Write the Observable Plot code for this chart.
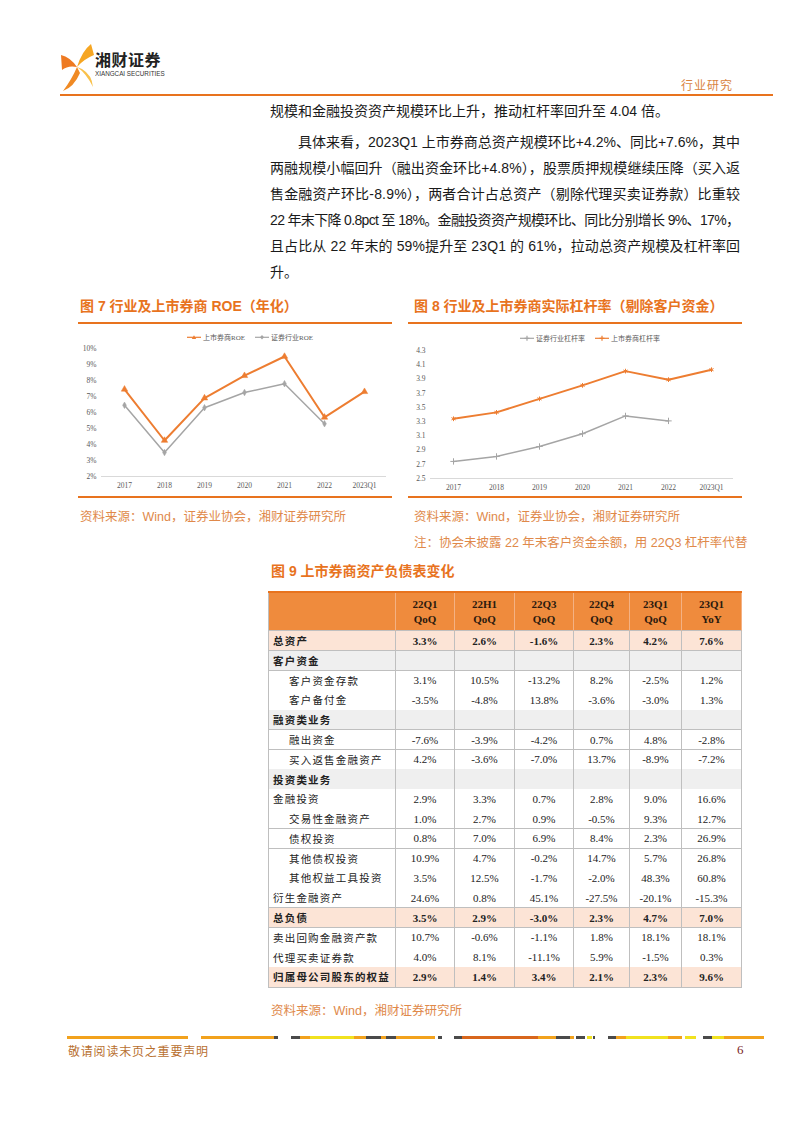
<!DOCTYPE html>
<html><head><meta charset="utf-8">
<script src="https://cdn.jsdelivr.net/npm/d3@7"></script>
<script src="https://cdn.jsdelivr.net/npm/@observablehq/plot@0.6"></script>
<style>
body{margin:0;background:#fff;}
#page{position:relative;width:802px;height:1133px;overflow:hidden;background:#fff;font-family:"Liberation Sans","Noto Sans CJK SC",sans-serif;}
.abs{position:absolute;}
.body-line{position:absolute;font-size:14px;line-height:20px;height:20px;color:#1a1a1a;white-space:nowrap;}
.title{position:absolute;font-size:14px;font-weight:bold;color:#E8731E;line-height:18px;white-space:nowrap;font-family:"Liberation Sans","Noto Sans CJK SC",sans-serif;}
.rule{position:absolute;height:2px;background:#E8731E;}
.src{position:absolute;font-size:12.5px;color:#E0894A;line-height:16px;white-space:nowrap;}
.legend{position:absolute;display:flex;gap:10px;font-size:7px;color:#595959;font-family:"Liberation Serif","Noto Sans CJK SC",serif;white-space:nowrap;align-items:center;}
.legend span.item{display:flex;align-items:center;gap:2px;}
.cell{position:absolute;box-sizing:border-box;border-right:1px solid #BFBFBF;border-bottom:1px solid #BFBFBF;font-family:"Liberation Serif","Noto Sans CJK SC",serif;font-size:11px;color:#222;display:flex;align-items:center;white-space:nowrap;}
</style></head><body><div id="page"></div>
<script>
// ---------- data ----------
const years = ["2017","2018","2019","2020","2021","2022","2023Q1"];
const roeListed = [7.45, 4.25, 6.9, 8.3, 9.5, 5.7, 7.3];
const roeIndustry = [6.45, 3.5, 6.3, 7.25, 7.8, 5.3, null];
const roeTicks = [2,3,4,5,6,7,8,9,10];
const levIndustry = [2.74, 2.81, 2.95, 3.13, 3.38, 3.31, null];
const levListed = [3.34, 3.43, 3.62, 3.81, 4.01, 3.89, 4.03];
const levTicks = [2.5,2.7,2.9,3.1,3.3,3.5,3.7,3.9,4.1,4.3];

const tableRows = ["总资产","客户资金","客户资金存款","客户备付金","融资类业务","融出资金","买入返售金融资产","投资类业务","金融投资","交易性金融资产","债权投资","其他债权投资","其他权益工具投资","衍生金融资产","总负债","卖出回购金融资产款","代理买卖证券款","归属母公司股东的权益"];
const rowKinds = ["total","cat","sub","sub","cat","sub","sub","cat","item","sub","sub","sub","sub","item","total","item","item","total"];
const colTop = ["22Q1","22H1","22Q3","22Q4","23Q1","23Q1"];
const colBottom = ["QoQ","QoQ","QoQ","QoQ","QoQ","YoY"];
const c22Q1 = [3.3,null,3.1,-3.5,null,-7.6,4.2,null,2.9,1.0,0.8,10.9,3.5,24.6,3.5,10.7,4.0,2.9];
const c22H1 = [2.6,null,10.5,-4.8,null,-3.9,-3.6,null,3.3,2.7,7.0,4.7,12.5,0.8,2.9,-0.6,8.1,1.4];
const c22Q3 = [-1.6,null,-13.2,13.8,null,-4.2,-7.0,null,0.7,0.9,6.9,-0.2,-1.7,45.1,-3.0,-1.1,-11.1,3.4];
const c22Q4 = [2.3,null,8.2,-3.6,null,0.7,13.7,null,2.8,-0.5,8.4,14.7,-2.0,-27.5,2.3,1.8,5.9,2.1];
const c23Q1 = [4.2,null,-2.5,-3.0,null,4.8,-8.9,null,9.0,9.3,2.3,5.7,48.3,-20.1,4.7,18.1,-1.5,2.3];
const c23YoY = [7.6,null,1.2,1.3,null,-2.8,-7.2,null,16.6,12.7,26.9,26.8,60.8,-15.3,7.0,18.1,0.3,9.6];

const bodyLines = [
  "规模和金融投资资产规模环比上升，推动杠杆率回升至 4.04 倍。",
  "具体来看，2023Q1 上市券商总资产规模环比+4.2%、同比+7.6%，其中",
  "两融规模小幅回升（融出资金环比+4.8%），股票质押规模继续压降（买入返",
  "售金融资产环比-8.9%），两者合计占总资产（剔除代理买卖证券款）比重较",
  "22 年末下降 0.8pct 至 18%。金融投资资产规模环比、同比分别增长 9%、17%，",
  "且占比从 22 年末的 59%提升至 23Q1 的 61%，拉动总资产规模及杠杆率回",
  "升。"
];

// ---------- helpers ----------
const page = document.getElementById("page");
function add(html){ const t=document.createElement("div"); t.innerHTML=html; const el=t.firstElementChild; page.appendChild(el); return el; }
const ORANGE="#ED7D31", GRAY="#A5A5A5";

// ---------- header ----------
add(`<svg class="abs" style="left:60px;top:43px" width="36" height="50" viewBox="0 0 36 50">
  <path d="M31 1 Q22 8 17 24 Q24 16 34 12 Z" fill="#F6A623"/>
  <path d="M1 12 Q10 14 17 24 Q8 22 2 27 Z" fill="#EE7A22"/>
  <path d="M17 24 Q12 36 3 48 Q14 44 20 30 Z" fill="#F08A24"/>
  <path d="M17 24 Q26 30 33 44 Q32 32 22 26 Z" fill="#F9C14B"/>
</svg>`);
add(`<div class="abs" style="left:95px;top:50px;font-size:16px;font-weight:bold;color:#222;font-family:'Noto Sans CJK SC';line-height:18px;letter-spacing:0.5px">湘财证券</div>`);
add(`<div class="abs" style="left:95px;top:70px;font-size:7px;color:#333;line-height:8px;transform:scaleX(0.9);transform-origin:left">XIANGCAI SECURITIES</div>`);
add(`<div class="abs" style="right:69px;top:77px;font-size:12px;color:#D9843F;line-height:16px;letter-spacing:1px;font-family:'Noto Sans CJK SC'">行业研究</div>`);
add(`<div class="abs" style="left:60px;top:94px;width:713px;height:2px;background:#E8731E"></div>`);

// ---------- body text ----------
const lineY = [111,142,168,194,220,246,272];
bodyLines.forEach((s,i)=>{
  const left = i===1 ? 298 : 270;
  const fit = (i>=1 && i<=5);
  const el = add(`<div class="body-line"></div>`);
  el.textContent = s;
  el.style.left = left+"px";
  el.style.top = (lineY[i]-10)+"px";
  if (fit) {
    const target = 740 - left;
    const natural = el.getBoundingClientRect().width;
    const n = [...s].length;
    el.style.letterSpacing = ((target - natural) / (n - 1)).toFixed(3) + "px";
  }
});

// ---------- chart titles & rules ----------
add(`<div class="title" style="left:80px;top:297px">图 7 行业及上市券商 ROE（年化）</div>`);
add(`<div class="title" style="left:414px;top:297px">图 8 行业及上市券商实际杠杆率（剔除客户资金）</div>`);
add(`<div class="rule" style="left:78px;top:322px;width:314px"></div>`);
add(`<div class="rule" style="left:78px;top:496px;width:314px"></div>`);
add(`<div class="rule" style="left:408px;top:322px;width:334px"></div>`);
add(`<div class="rule" style="left:408px;top:496px;width:334px"></div>`);

function legendItem(color, sym, label){
  const marker = sym==="tri" ? `<path d="M7 1.2 L9.2 5 L4.8 5 Z" fill="${color}"/>` :
                 sym==="dia" ? `<path d="M7 1 L9 3.3 L7 5.6 L5 3.3 Z" fill="${color}"/>` :
                 `<path d="M7 0.8 L7 5.8 M4.6 3.3 L9.4 3.3" stroke="${color}" stroke-width="1.2"/>`;
  return `<span class="item"><svg width="14" height="7"><line x1="0" y1="3.3" x2="14" y2="3.3" stroke="${color}" stroke-width="1.2"/>${marker}</svg><span>${label}</span></span>`;
}
add(`<div class="legend" style="left:187px;top:332px">${legendItem(ORANGE,"tri","上市券商ROE")}${legendItem(GRAY,"dia","证券行业ROE")}</div>`);
add(`<div class="legend" style="left:520px;top:333px">${legendItem(GRAY,"plus","证券行业杠杆率")}${legendItem(ORANGE,"plus","上市券商杠杆率")}</div>`);

function makeChart({width, series, yDomain, yTicks, fmt, ml, mr}) {
  const marks = [Plot.ruleY([yDomain[0]], {stroke:"#D9D9D9", strokeWidth:1})];
  series.forEach(s => {
    const d = [];
    s.values.forEach((v,i)=>{ if (v!=null) d.push({year:years[i], v}); });
    marks.push(Plot.line(d, {x:"year", y:"v", stroke:s.color, strokeWidth:s.sw}));
    marks.push(Plot.dot(d, {x:"year", y:"v", symbol:s.symbol, r:s.r, fill:s.color, stroke:s.color, strokeWidth:s.dsw||0.5}));
  });
  return Plot.plot({
    width, height:165, marginTop:18, marginBottom:19, marginLeft:ml, marginRight:mr,
    style:{fontFamily:'"Liberation Serif","Noto Sans CJK SC",serif', fontSize:"7.5px", color:"#595959", background:"transparent", overflow:"visible"},
    x:{type:"point", domain:years, padding:0.5, label:null, tickSize:0, tickPadding:6},
    y:{domain:yDomain, ticks:yTicks, tickFormat:fmt, label:null, tickSize:0, tickPadding:5},
    marks
  });
}

const chart7 = makeChart({
  width:314, ml:23, mr:6, yDomain:[2,10], yTicks:roeTicks, fmt:d=>d+"%",
  series:[
    {values:roeIndustry, color:GRAY, sw:1.5, symbol:"diamond", r:2},
    {values:roeListed, color:ORANGE, sw:2, symbol:"triangle", r:2.4}
  ]
});
chart7.style.position="absolute"; chart7.style.left="78px"; chart7.style.top="330px";
page.appendChild(chart7);

const chart8 = makeChart({
  width:334, ml:22, mr:9, yDomain:[2.5,4.3], yTicks:levTicks, fmt:d=>d.toFixed(1),
  series:[
    {values:levIndustry, color:GRAY, sw:1.5, symbol:"plus", r:2.2, dsw:1},
    {values:levListed, color:ORANGE, sw:2, symbol:"asterisk", r:2.2, dsw:1}
  ]
});
chart8.style.position="absolute"; chart8.style.left="408px"; chart8.style.top="332px";
page.appendChild(chart8);

// ---------- sources ----------
add(`<div class="src" style="left:80px;top:509px">资料来源：Wind，证券业协会，湘财证券研究所</div>`);
add(`<div class="src" style="left:414px;top:509px">资料来源：Wind，证券业协会，湘财证券研究所</div>`);
add(`<div class="src" style="left:414px;top:535px">注：协会未披露 22 年末客户资金余额，用 22Q3 杠杆率代替</div>`);
add(`<div class="title" style="left:271px;top:562px">图 9 上市券商资产负债表变化</div>`);

// ---------- table ----------
const colX = [268,396,455,515,574,630,682,742];
const cols = [c22Q1,c22H1,c22Q3,c22Q4,c23Q1,c23YoY];
add(`<div class="abs" style="left:268px;top:591px;width:474px;height:2px;background:#E8731E"></div>`);
const headTop = 593, headH = 38, rowH = 19.78;
for (let c=0;c<7;c++){
  const el = add(`<div class="cell"></div>`);
  el.style.left = colX[c]+"px"; el.style.top = headTop+"px";
  el.style.width = (colX[c+1]-colX[c])+"px"; el.style.height = headH+"px";
  el.style.background = "#EF8B3D";
  el.style.borderRight = "1px solid #F4B183";
  el.style.borderBottom = "1px solid #BFBFBF";
  if (c===0) el.style.borderLeft = "1px solid #BFBFBF";
  if (c>0){
    el.style.flexDirection="column"; el.style.justifyContent="center";
    el.style.fontWeight="bold"; el.style.fontSize="11px"; el.style.lineHeight="15px"; el.style.color="#2b1a0e";
    el.innerHTML = `<div>${colTop[c-1]}</div><div>${colBottom[c-1]}</div>`;
  }
}
tableRows.forEach((label,r)=>{
  const kind = rowKinds[r];
  const top = headTop + headH + r*rowH;
  const bg = kind==="total" ? "#FCE4D6" : kind==="cat" ? "#EFEFEF" : "#FFFFFF";
  const bold = (kind==="total"||kind==="cat");
  for (let c=0;c<7;c++){
    const el = add(`<div class="cell"></div>`);
    el.style.left = colX[c]+"px"; el.style.top = top.toFixed(2)+"px";
    el.style.width = (colX[c+1]-colX[c])+"px"; el.style.height = (rowH+0.5).toFixed(2)+"px";
    el.style.background = bg;
    if (c===0){
      el.style.borderLeft = "1px solid #BFBFBF";
      el.style.paddingLeft = (kind==="sub" ? 20 : 4)+"px";
      el.style.letterSpacing = "1.2px";
      el.style.fontSize = "10.5px";
      if (bold) el.style.fontWeight = "bold";
      el.textContent = label;
    } else {
      el.style.justifyContent = "center";
      if (kind==="total") el.style.fontWeight = "bold";
      const v = cols[c-1][r];
      el.textContent = v==null ? "" : v.toFixed(1)+"%";
    }
  }
});
add(`<div class="src" style="left:271px;top:1003px">资料来源：Wind，湘财证券研究所</div>`);

// ---------- footer ----------
const O="#F2A21D", Y="#F1E21F", D="#4A4A4A", R="#D8661C";
const segs = [[15,262,O],[287,437,O],[437,445,D],[472,490,D],[490,510,O],[510,600,Y],[600,625,O],[625,655,D],[655,665,O],[665,685,D],[685,765,O],[772,780,D],[805,820,D],[820,975,R],[975,1012,O],[1012,1040,D],[1040,1050,O],[1052,1072,D],[1075,1085,Y],[1088,1092,D],[1118,1135,D],[1135,1155,O],[1155,1240,Y],[1240,1270,O],[1275,1297,Y],[1313,1330,D],[1330,1355,Y],[1355,1437,O]];
segs.forEach(([a,b,col])=>{
  const x0 = 60 + a*0.49, x1 = 60 + b*0.49;
  add(`<div class="abs" style="left:${x0.toFixed(1)}px;top:1036px;width:${(x1-x0).toFixed(1)}px;height:3px;background:${col}"></div>`);
});
add(`<div class="abs" style="left:68px;top:1043px;font-size:12px;color:#B8702F;line-height:16px;letter-spacing:0.8px;font-family:'Noto Sans CJK SC'">敬请阅读末页之重要声明</div>`);
add(`<div class="abs" style="left:737px;top:1042px;font-size:13px;color:#7A1F1F;line-height:16px;font-family:'Liberation Serif'">6</div>`);
</script></body></html>
